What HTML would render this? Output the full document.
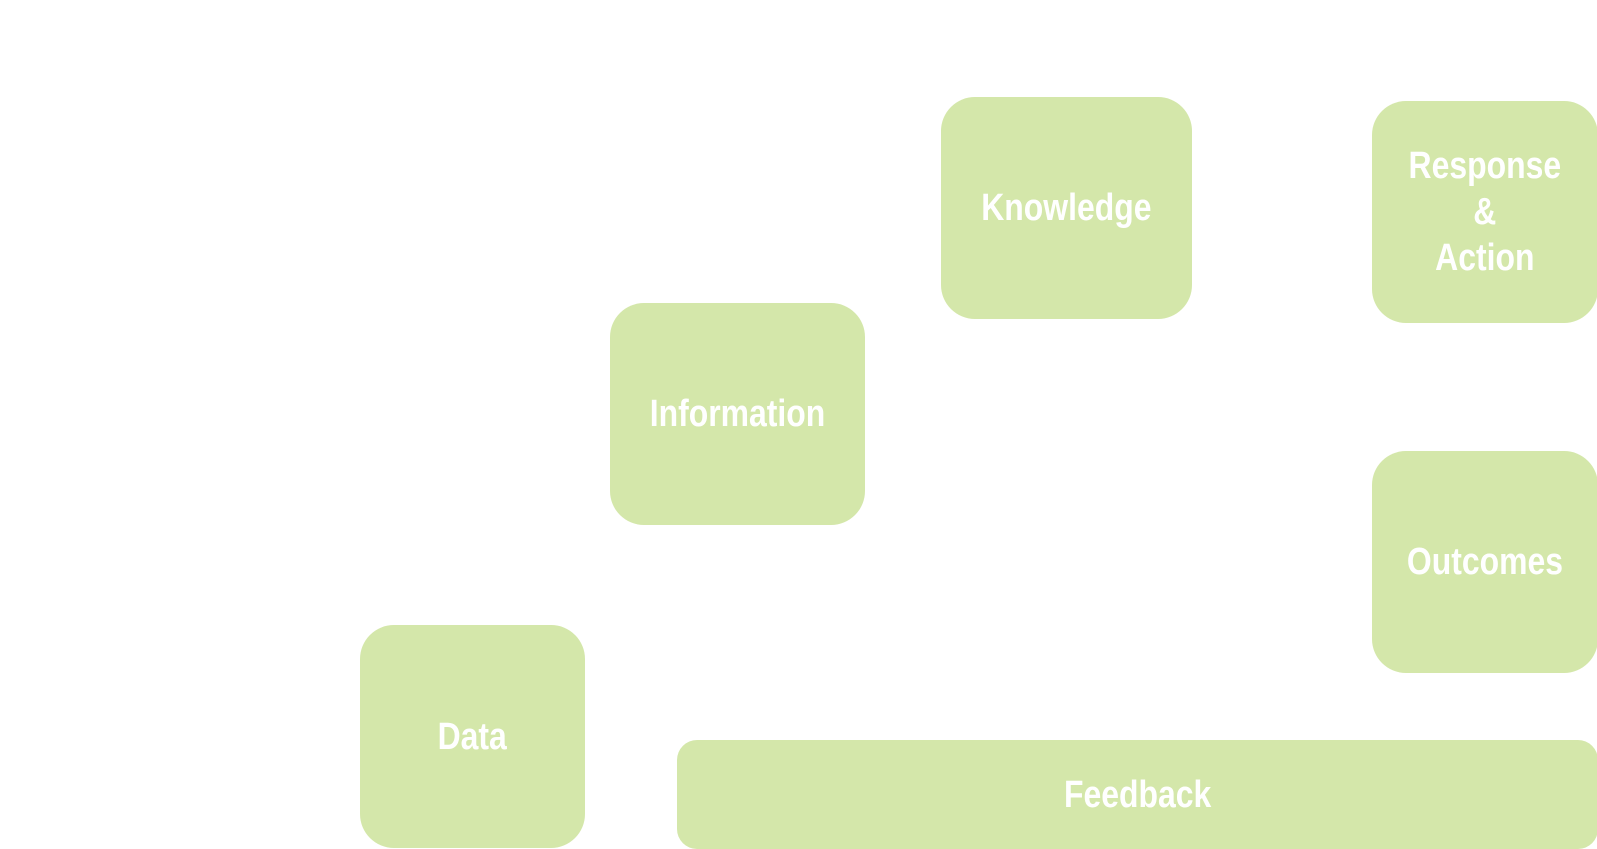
<!DOCTYPE html>
<html><head><meta charset="utf-8"><style>
html,body{margin:0;padding:0;background:#fff;width:1597px;height:849px;overflow:hidden}
.b{position:absolute;background:#d4e7aa;color:#fff;display:flex;align-items:center;justify-content:center;text-align:center;
font-family:"Liberation Sans",sans-serif;font-weight:bold;font-size:38px;line-height:46px;border-radius:34px}
.b span{display:inline-block;transform:scaleX(0.84);white-space:nowrap}
</style></head><body>
<div class="b" style="left:360px;top:625px;width:225px;height:223px"><span>Data</span></div>
<div class="b" style="left:610px;top:303px;width:255px;height:222px"><span>Information</span></div>
<div class="b" style="left:941px;top:97px;width:251px;height:222px"><span>Knowledge</span></div>
<div class="b" style="left:1372px;top:101px;width:226px;height:222px"><span>Response<br>&amp;<br>Action</span></div>
<div class="b" style="left:1372px;top:451px;width:226px;height:222px"><span>Outcomes</span></div>
<div class="b" style="left:677px;top:740px;width:921px;height:109px;border-radius:20px"><span>Feedback</span></div>
</body></html>
